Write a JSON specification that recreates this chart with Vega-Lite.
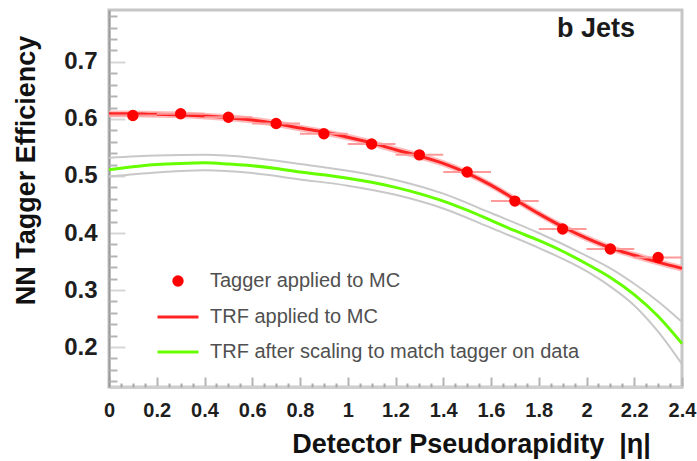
{
  "$schema": "https://vega.github.io/schema/vega-lite/v6.json",
  "width": 573,
  "height": 377,
  "autosize": {"type": "none"},
  "padding": {"left": 109, "top": 10, "right": 15, "bottom": 74},
  "background": "white",
  "config": {
    "font": "Liberation Sans",
    "view": {"stroke": "#c6c6c6", "strokeWidth": 3},
    "axis": {
      "grid": false,
      "labelFont": "Liberation Sans",
      "labelFontWeight": "bold",
      "labelColor": "#1e1e1e",
      "titleFont": "Liberation Sans",
      "titleFontWeight": "bold",
      "titleColor": "#111111"
    }
  },
  "title": {
    "text": "b Jets",
    "anchor": "end",
    "frame": "group",
    "orient": "top",
    "offset": 0,
    "baseline": "alphabetic",
    "dx": -47,
    "dy": 54,
    "fontSize": 27,
    "fontWeight": "bold",
    "color": "#1a1a1a",
    "font": "Liberation Sans"
  },
  "datasets": {
    "pts": [
      {"eta": 0.1, "eff": 0.606, "eta_lo": 0.0, "eta_hi": 0.2},
      {"eta": 0.3, "eff": 0.609, "eta_lo": 0.2, "eta_hi": 0.4},
      {"eta": 0.5, "eff": 0.603, "eta_lo": 0.4, "eta_hi": 0.6},
      {"eta": 0.7, "eff": 0.592, "eta_lo": 0.6, "eta_hi": 0.8},
      {"eta": 0.9, "eff": 0.574, "eta_lo": 0.8, "eta_hi": 1.0},
      {"eta": 1.1, "eff": 0.556, "eta_lo": 1.0, "eta_hi": 1.2},
      {"eta": 1.3, "eff": 0.537, "eta_lo": 1.2, "eta_hi": 1.4},
      {"eta": 1.5, "eff": 0.507, "eta_lo": 1.4, "eta_hi": 1.6},
      {"eta": 1.7, "eff": 0.456, "eta_lo": 1.6, "eta_hi": 1.8},
      {"eta": 1.9, "eff": 0.407, "eta_lo": 1.8, "eta_hi": 2.0},
      {"eta": 2.1, "eff": 0.372, "eta_lo": 2.0, "eta_hi": 2.2},
      {"eta": 2.3, "eff": 0.357, "eta_lo": 2.2, "eta_hi": 2.4}
    ],
    "trf": [
      {"eta": 0.0, "eff": 0.609, "lo": 0.603, "hi": 0.615},
      {"eta": 0.1, "eff": 0.609, "lo": 0.603, "hi": 0.615},
      {"eta": 0.2, "eff": 0.608, "lo": 0.602, "hi": 0.614},
      {"eta": 0.3, "eff": 0.607, "lo": 0.601, "hi": 0.613},
      {"eta": 0.4, "eff": 0.605, "lo": 0.599, "hi": 0.611},
      {"eta": 0.5, "eff": 0.602, "lo": 0.596, "hi": 0.608},
      {"eta": 0.6, "eff": 0.598, "lo": 0.592, "hi": 0.604},
      {"eta": 0.7, "eff": 0.592, "lo": 0.586, "hi": 0.598},
      {"eta": 0.8, "eff": 0.584, "lo": 0.578, "hi": 0.590},
      {"eta": 0.9, "eff": 0.577, "lo": 0.571, "hi": 0.583},
      {"eta": 1.0, "eff": 0.568, "lo": 0.562, "hi": 0.574},
      {"eta": 1.1, "eff": 0.558, "lo": 0.552, "hi": 0.564},
      {"eta": 1.2, "eff": 0.546, "lo": 0.540, "hi": 0.552},
      {"eta": 1.3, "eff": 0.535, "lo": 0.529, "hi": 0.541},
      {"eta": 1.4, "eff": 0.522, "lo": 0.516, "hi": 0.528},
      {"eta": 1.5, "eff": 0.505, "lo": 0.499, "hi": 0.511},
      {"eta": 1.6, "eff": 0.484, "lo": 0.478, "hi": 0.490},
      {"eta": 1.7, "eff": 0.459, "lo": 0.453, "hi": 0.465},
      {"eta": 1.8, "eff": 0.434, "lo": 0.428, "hi": 0.440},
      {"eta": 1.9, "eff": 0.411, "lo": 0.405, "hi": 0.417},
      {"eta": 2.0, "eff": 0.391, "lo": 0.385, "hi": 0.397},
      {"eta": 2.1, "eff": 0.374, "lo": 0.368, "hi": 0.380},
      {"eta": 2.2, "eff": 0.361, "lo": 0.355, "hi": 0.367},
      {"eta": 2.3, "eff": 0.349, "lo": 0.343, "hi": 0.355},
      {"eta": 2.4, "eff": 0.338, "lo": 0.332, "hi": 0.344}
    ],
    "scaled": [
      {"eta": 0.0, "eff": 0.511},
      {"eta": 0.1, "eff": 0.516},
      {"eta": 0.2, "eff": 0.520},
      {"eta": 0.3, "eff": 0.522},
      {"eta": 0.4, "eff": 0.523},
      {"eta": 0.5, "eff": 0.521},
      {"eta": 0.6, "eff": 0.518},
      {"eta": 0.7, "eff": 0.513},
      {"eta": 0.8, "eff": 0.507},
      {"eta": 0.9, "eff": 0.502},
      {"eta": 1.0, "eff": 0.496},
      {"eta": 1.1, "eff": 0.489},
      {"eta": 1.2, "eff": 0.480},
      {"eta": 1.3, "eff": 0.469},
      {"eta": 1.4, "eff": 0.456},
      {"eta": 1.5, "eff": 0.440},
      {"eta": 1.6, "eff": 0.422},
      {"eta": 1.7, "eff": 0.404},
      {"eta": 1.8, "eff": 0.387},
      {"eta": 1.9, "eff": 0.368},
      {"eta": 2.0, "eff": 0.346},
      {"eta": 2.1, "eff": 0.322},
      {"eta": 2.2, "eff": 0.292},
      {"eta": 2.3, "eff": 0.254},
      {"eta": 2.4, "eff": 0.206}
    ],
    "scaledBand": [
      {"eta": 0.0, "up": 0.532, "down": 0.499},
      {"eta": 0.2, "up": 0.536, "down": 0.506},
      {"eta": 0.4, "up": 0.537, "down": 0.510},
      {"eta": 0.6, "up": 0.532, "down": 0.505},
      {"eta": 0.8, "up": 0.521, "down": 0.494},
      {"eta": 1.0, "up": 0.509, "down": 0.483},
      {"eta": 1.2, "up": 0.493, "down": 0.467},
      {"eta": 1.4, "up": 0.469, "down": 0.443},
      {"eta": 1.6, "up": 0.435, "down": 0.409},
      {"eta": 1.8, "up": 0.400, "down": 0.374},
      {"eta": 2.0, "up": 0.360, "down": 0.333},
      {"eta": 2.1, "up": 0.338, "down": 0.306},
      {"eta": 2.2, "up": 0.311, "down": 0.273},
      {"eta": 2.3, "up": 0.280, "down": 0.227},
      {"eta": 2.4, "up": 0.244, "down": 0.170}
    ]
  },
  "resolve": {"axis": {"x": "independent", "y": "independent"}},
  "layer": [
    {
      "layer": [
        {
          "data": {"name": "trf"},
          "mark": {"type": "area", "color": "#ffb0b0", "opacity": 0.85, "interpolate": "monotone"},
          "encoding": {
            "x": {
              "field": "eta", "type": "quantitative",
              "scale": {"domain": [0, 2.4], "nice": false, "zero": false},
              "title": "Detector Pseudorapidity\u00a0\u00a0|η|",
              "axis": {
                "orient": "bottom",
                "values": [0, 0.2, 0.4, 0.6, 0.8, 1, 1.2, 1.4, 1.6, 1.8, 2, 2.2, 2.4],
                "format": "~g",
                "labelFlush": false,
                "labelFontSize": 20,
                "labelPadding": 23,
                "tickSize": -10,
                "tickColor": "#b4b4b4",
                "tickWidth": 2,
                "domainColor": "#cfcfcf",
                "domainWidth": 3,
                "title": "Detector Pseudorapidity\u00a0\u00a0|η|",
                "titleFontSize": 27,
                "titleX": 362,
                "titleY": 65,
                "titleAlign": "center",
                "titleBaseline": "alphabetic"
              }
            },
            "y": {
              "field": "lo", "type": "quantitative",
              "scale": {"domain": [0.13, 0.791], "nice": false, "zero": false},
              "title": "NN Tagger Efficiency",
              "axis": {
                "orient": "left",
                "values": [0.2, 0.3, 0.4, 0.5, 0.6, 0.7],
                "format": "~g",
                "labelFlush": false,
                "labelFontSize": 24,
                "labelPadding": 28,
                "tickSize": -16,
                "tickColor": "#d6d6d6",
                "tickWidth": 2,
                "domainColor": "#9a9a9a",
                "domainWidth": 2,
                "title": "NN Tagger Efficiency",
                "titleFontSize": 27,
                "titleAngle": -90,
                "titleX": -75,
                "titleY": 160,
                "titleAlign": "center",
                "titleBaseline": "alphabetic"
              }
            },
            "y2": {"field": "hi"}
          }
        },
        {
          "data": {"name": "scaledBand"},
          "mark": {"type": "line", "color": "#c8c8c8", "strokeWidth": 2, "interpolate": "monotone"},
          "encoding": {
            "x": {"field": "eta", "type": "quantitative"},
            "y": {"field": "up", "type": "quantitative"}
          }
        },
        {
          "data": {"name": "scaledBand"},
          "mark": {"type": "line", "color": "#c8c8c8", "strokeWidth": 2, "interpolate": "monotone"},
          "encoding": {
            "x": {"field": "eta", "type": "quantitative"},
            "y": {"field": "down", "type": "quantitative"}
          }
        },
        {
          "data": {"name": "scaled"},
          "mark": {"type": "line", "strokeWidth": 3, "color": "#66ff00", "interpolate": "monotone"},
          "encoding": {
            "x": {"field": "eta", "type": "quantitative"},
            "y": {"field": "eff", "type": "quantitative"}
          }
        },
        {
          "data": {"name": "trf"},
          "mark": {"type": "line", "strokeWidth": 3, "color": "#ff2222", "interpolate": "monotone"},
          "encoding": {
            "x": {"field": "eta", "type": "quantitative"},
            "y": {"field": "eff", "type": "quantitative"}
          }
        },
        {
          "data": {"name": "pts"},
          "mark": {"type": "rule", "color": "#ff9a9a", "strokeWidth": 2},
          "encoding": {
            "x": {"field": "eta_lo", "type": "quantitative"},
            "x2": {"field": "eta_hi"},
            "y": {"field": "eff", "type": "quantitative"}
          }
        },
        {
          "data": {"name": "pts"},
          "mark": {"type": "point", "filled": true, "strokeWidth": 3, "opacity": 1},
          "encoding": {
            "x": {"field": "eta", "type": "quantitative"},
            "y": {"field": "eff", "type": "quantitative"},
            "color": {
              "datum": "Tagger applied to MC",
              "scale": {
                "domain": ["Tagger applied to MC", "TRF applied to MC", "TRF after scaling to match tagger on data"],
                "range": ["#ff0000", "#ff2222", "#66ff00"]
              },
              "legend": {
                "title": null,
                "orient": "none",
                "legendX": 47,
                "legendY": 261,
                "direction": "vertical",
                "rowPadding": 3,
                "labelOffset": 10,
                "symbolStrokeWidth": 3,
                "labelFont": "Liberation Sans",
                "labelFontSize": 20,
                "labelColor": "#505050",
                "labelLimit": 600
              }
            },
            "stroke": {
              "datum": "Tagger applied to MC",
              "scale": {
                "domain": ["Tagger applied to MC", "TRF applied to MC", "TRF after scaling to match tagger on data"],
                "range": ["#ff0000", "#ff2222", "#66ff00"]
              }
            },
            "shape": {
              "datum": "Tagger applied to MC",
              "scale": {
                "domain": ["Tagger applied to MC", "TRF applied to MC", "TRF after scaling to match tagger on data"],
                "range": ["circle", "stroke", "stroke"]
              }
            },
            "size": {
              "datum": "Tagger applied to MC",
              "type": "nominal",
              "scale": {
                "type": "ordinal",
                "domain": ["Tagger applied to MC", "TRF applied to MC", "TRF after scaling to match tagger on data"],
                "range": [70, 1681, 1681]
              }
            }
          }
        }
      ]
    },
    {
      "data": {"name": "pts"},
      "mark": {"type": "point", "opacity": 0},
      "encoding": {
        "x": {
          "field": "eta", "type": "quantitative",
          "scale": {"domain": [0, 2.4], "nice": false, "zero": false},
          "axis": {
            "orient": "bottom",
            "values": [0.05, 0.1, 0.15, 0.25, 0.3, 0.35, 0.45, 0.5, 0.55, 0.65, 0.7, 0.75, 0.85, 0.9, 0.95, 1.05, 1.1, 1.15, 1.25, 1.3, 1.35, 1.45, 1.5, 1.55, 1.65, 1.7, 1.75, 1.85, 1.9, 1.95, 2.05, 2.1, 2.15, 2.25, 2.3, 2.35],
            "labels": false,
            "domain": false,
            "tickSize": -4,
            "tickColor": "#a8a8a8",
            "tickWidth": 2,
            "title": null
          }
        },
        "y": {
          "field": "eff", "type": "quantitative",
          "scale": {"domain": [0.13, 0.791], "nice": false, "zero": false},
          "axis": {
            "orient": "left",
            "values": [0.14, 0.16, 0.18, 0.22, 0.24, 0.26, 0.28, 0.32, 0.34, 0.36, 0.38, 0.42, 0.44, 0.46, 0.48, 0.52, 0.54, 0.56, 0.58, 0.62, 0.64, 0.66, 0.68, 0.72, 0.74, 0.76, 0.78],
            "labels": false,
            "domain": false,
            "tickSize": -8,
            "tickColor": "#b4b4b4",
            "tickWidth": 2,
            "title": null
          }
        }
      }
    }
  ]
}
